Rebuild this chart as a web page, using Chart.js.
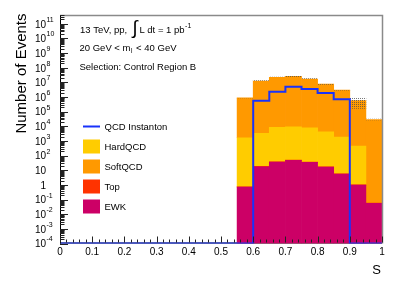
<!DOCTYPE html>
<html lang="en">
<head>
<meta charset="UTF-8">
<title>Number of Events vs S - Control Region B</title>
<script src="https://cdn.jsdelivr.net/npm/chart.js@4"></script>
<style>
  html, body { margin: 0; padding: 0; background: #fff; }
  canvas { display: block; }
</style>
</head>
<body>
<canvas id="chart" width="398" height="287"></canvas>
<script>
// binning of S: 20 bins of 0.05 between 0 and 1
const histEdges = [0, 0.05, 0.1, 0.15, 0.2, 0.25, 0.3, 0.35, 0.4, 0.45, 0.5,
                   0.55, 0.6, 0.65, 0.7, 0.75, 0.8, 0.85, 0.9, 0.95, 1.0];
// the backgrounds only fill the bins from 0.55 up
const binCenters = [0.575, 0.625, 0.675, 0.725, 0.775, 0.825, 0.875, 0.925, 0.975];

// stacked backgrounds (events per bin)
const ewk      = [0.72, 17.5, 36.6, 47.6, 34.9, 16.7, 5.55, 0.98, 0.055];
const topQuark = [0.02, 0.8, 1.5, 2.0, 1.5, 0.8, 0.25, 0.04, 0.003];
const hardQCD  = [1670, 3310, 8510, 9350, 7980, 4260, 1855, 451, 0];
const softQCD  = [8.9e5, 1.24e7, 2.2e7, 2.6e7, 1.7e7, 7.7e6, 3.0e6, 5.8e5, 2.9e4];
// uncertainty band on the total
const bandLow  = [8.6e5, 1.2e7, 2.12e7, 2.5e7, 1.64e7, 7.4e6, 2.9e6, 1.7e5, 2.75e4];
const bandHigh = [9.4e5, 1.31e7, 2.32e7, 2.74e7, 1.8e7, 8.1e6, 3.15e6, 9.0e5, 3.1e4];

// QCD instanton signal, one value per bin of histEdges (0 = empty bin)
const instanton = [0, 0, 0, 0, 0, 0, 0, 0, 0, 0, 0,
                   0, 5.6e5, 2.3e6, 5.05e6, 3.5e6, 1.87e6, 7.0e5, 0, 0];

const xTicks = [0, 0.1, 0.2, 0.3, 0.4, 0.5, 0.6, 0.7, 0.8, 0.9, 1];
const yTickExponents = [-4, -3, -2, -1, 0, 1, 2, 3, 4, 5, 6, 7, 8, 9, 10, 11];
const yMin = 1e-4;
const yMax = 4e11;

const legendOrder = ['QCD Instanton', 'HardQCD', 'SoftQCD', 'Top', 'EWK'];

const FONT = '"Liberation Sans", Arial, Helvetica, sans-serif';
const BLUE = 'rgb(25, 50, 250)';

const canvas = document.getElementById('chart');
const ctx = canvas.getContext('2d');

// dotted fill for the uncertainty band
function dotPattern() {
    const c = document.createElement('canvas');
    c.width = 2; c.height = 2;
    const g = c.getContext('2d');
    g.fillStyle = 'rgba(75, 75, 75, 0.75)';
    g.fillRect(0, 0, 1, 1);
    return ctx.createPattern(c, 'repeat');
}

function bars(values) {
    return binCenters.map((c, i) => ({ x: c, y: values[i] }));
}

// step line through the bin edges, empty bins sit on the frame like in ROOT
const instantonPoints = histEdges.map((e, i) => ({
    x: e,
    y: (instanton[Math.min(i, instanton.length - 1)] || yMin)
}));

function supText(g, base, sup, x, y, size) {
    g.font = size + 'px ' + FONT;
    g.fillText(base, x, y);
    const w = g.measureText(base).width;
    g.font = Math.round(size * 0.7) + 'px ' + FONT;
    g.fillText(sup, x + w + 0.5, y - size * 0.4);
    return w;
}

const rootStyle = {
    id: 'rootStyle',
    beforeDatasetsDraw(chart) {
        const { ctx: g, chartArea: a } = chart;
        g.save();
        g.strokeStyle = '#000';
        g.lineWidth = 1;
        g.beginPath();
        g.moveTo(a.left, a.bottom - 0.5);
        g.lineTo(a.right, a.bottom - 0.5);
        g.stroke();
        g.restore();
    },
    afterDatasetsDraw(chart) {
        const { ctx: g, chartArea: a, scales: { x, y } } = chart;
        g.save();
        // frame
        g.strokeStyle = '#8a8a8a';
        g.lineWidth = 1.5;
        g.beginPath();
        g.moveTo(a.left, a.top + 0.5);
        g.lineTo(a.right + 0.5, a.top + 0.5);
        g.lineTo(a.right + 0.5, a.bottom);
        g.stroke();

        g.strokeStyle = '#000';
        g.lineWidth = 1;
        g.beginPath();
        g.moveTo(a.left + 0.5, a.top);
        g.lineTo(a.left + 0.5, a.bottom);
        g.stroke();

        // y ticks, decades + 2..9
        g.strokeStyle = '#222';
        g.beginPath();
        yTickExponents.forEach(e => {
            for (let k = 1; k <= 9; k++) {
                const v = k * Math.pow(10, e);
                if (v > y.max) break;
                const py = Math.round(y.getPixelForValue(v)) + 0.5;
                g.moveTo(a.left, py);
                g.lineTo(a.left + (k === 1 ? 8 : 4.5), py);
            }
        });
        g.stroke();

        // x ticks, 5 subdivisions per label
        g.beginPath();
        for (let i = 0; i < xTicks.length; i++) {
            const px = Math.round(x.getPixelForValue(xTicks[i])) + 0.5;
            g.moveTo(px, a.bottom - 1);
            g.lineTo(px, a.bottom - 7);
            if (i < xTicks.length - 1) {
                const step = (xTicks[i + 1] - xTicks[i]) / 5;
                for (let j = 1; j < 5; j++) {
                    const qx = Math.round(x.getPixelForValue(xTicks[i] + j * step)) + 0.5;
                    g.moveTo(qx, a.bottom - 1);
                    g.lineTo(qx, a.bottom - 4);
                }
            }
        }
        g.stroke();

        // y tick labels 10^n
        g.fillStyle = '#000';
        g.textBaseline = 'middle';
        yTickExponents.forEach(e => {
            const py = y.getPixelForValue(Math.pow(10, e)) + 1;
            const xr = a.left - 14;
            g.font = '10px ' + FONT;
            g.textAlign = 'right';
            if (e === 0) { g.fillText('1', xr, py); return; }
            g.fillText('10', xr, py);
            if (e === 1) return;
            g.textAlign = 'left';
            g.font = '7px ' + FONT;
            g.fillText(String(e), xr + 0.5, py - 5);
        });
        g.restore();
    },
    afterDraw(chart) {
        const { ctx: g, chartArea: a } = chart;
        g.save();
        g.fillStyle = '#000';
        g.textBaseline = 'middle';
        g.textAlign = 'left';

        // header text
        g.font = '9.5px ' + FONT;
        let tx = 80;
        g.fillText('13 TeV, pp,', tx, 30);
        tx += g.measureText('13 TeV, pp,').width + 5;
        g.font = '19px ' + FONT;
        g.fillText('\u222B', tx, 29);
        tx += g.measureText('\u222B').width + 2;
        g.font = '9.5px ' + FONT;
        supText(g, 'L dt = 1 pb', '-1', tx, 30, 9.5);

        tx = 79.5;
        g.font = '9.5px ' + FONT;
        g.fillText('20 GeV < m', tx, 48);
        tx += g.measureText('20 GeV < m').width;
        g.font = '6.5px ' + FONT;
        g.fillText('l', tx + 0.5, 51);
        tx += 3;
        g.font = '9.5px ' + FONT;
        g.fillText(' < 40 GeV', tx, 48);

        g.fillText('Selection: Control Region B', 79.5, 67);

        // legend
        let ly = 126.5;
        legendOrder.forEach(label => {
            const ds = chart.data.datasets.find(d => d.label === label);
            if (ds.type === 'line') {
                g.strokeStyle = ds.borderColor;
                g.lineWidth = 2;
                g.beginPath();
                g.moveTo(83, ly);
                g.lineTo(100, ly);
                g.stroke();
            } else {
                g.fillStyle = ds.backgroundColor;
                g.fillRect(83, ly - 7, 17, 14);
            }
            g.fillStyle = '#000';
            g.font = '9.5px ' + FONT;
            g.fillText(label, 104.5, ly + 0.5);
            ly += 20;
        });

        // axis titles
        g.font = '13px ' + FONT;
        g.textAlign = 'right';
        g.fillText('S', a.right - 1, 270);

        g.translate(25.5, 13.5);
        g.rotate(-Math.PI / 2);
        g.font = '15px ' + FONT;
        g.textAlign = 'right';
        g.textBaseline = 'alphabetic';
        g.fillText('Number of Events', 0, 0);
        g.restore();
    }
};

const barDefaults = {
    type: 'bar',
    stack: 'mc',
    grouped: false,
    barPercentage: 1,
    categoryPercentage: 1,
    borderWidth: 0
};

new Chart(ctx, {
    data: {
        datasets: [
            {
                type: 'line',
                label: 'QCD Instanton',
                stack: 'inst',
                data: instantonPoints,
                stepped: 'before',
                borderColor: BLUE,
                borderWidth: 2,
                pointRadius: 0,
                fill: false
            },
            Object.assign({}, barDefaults, {
                label: 'Uncertainty',
                stack: 'band',
                data: binCenters.map((c, i) => ({ x: c, y: [bandLow[i], bandHigh[i]] })),
                backgroundColor: dotPattern()
            }),
            Object.assign({}, barDefaults, { label: 'EWK', data: bars(ewk), backgroundColor: '#cc0066' }),
            Object.assign({}, barDefaults, { label: 'Top', data: bars(topQuark), backgroundColor: '#ff3300' }),
            Object.assign({}, barDefaults, { label: 'HardQCD', data: bars(hardQCD), backgroundColor: '#ffcc00' }),
            Object.assign({}, barDefaults, { label: 'SoftQCD', data: bars(softQCD), backgroundColor: '#ff9900' })
        ]
    },
    options: {
        responsive: false,
        animation: false,
        devicePixelRatio: 1,
        layout: { padding: { left: 0, right: 16, top: 15, bottom: 0 } },
        plugins: { legend: { display: false }, tooltip: { enabled: false } },
        scales: {
            x: {
                type: 'linear',
                min: 0,
                max: 1,
                offset: false,
                grid: { display: false, drawTicks: false, offset: false },
                border: { display: false },
                afterBuildTicks: s => { s.ticks = xTicks.map(v => ({ value: v })); },
                afterFit: s => { s.height = 43.5; },
                ticks: {
                    autoSkip: false,
                    maxRotation: 0,
                    padding: 3,
                    color: '#000',
                    font: { family: FONT, size: 10 },
                    callback: v => String(v)
                }
            },
            y: {
                type: 'logarithmic',
                min: yMin,
                max: yMax,
                stacked: true,
                grid: { display: false },
                border: { display: false },
                afterBuildTicks: s => { s.ticks = yTickExponents.map(e => ({ value: Math.pow(10, e) })); },
                afterFit: s => { s.width = 60; },
                ticks: { display: false }
            }
        }
    },
    plugins: [rootStyle]
});
</script>
</body>
</html>
